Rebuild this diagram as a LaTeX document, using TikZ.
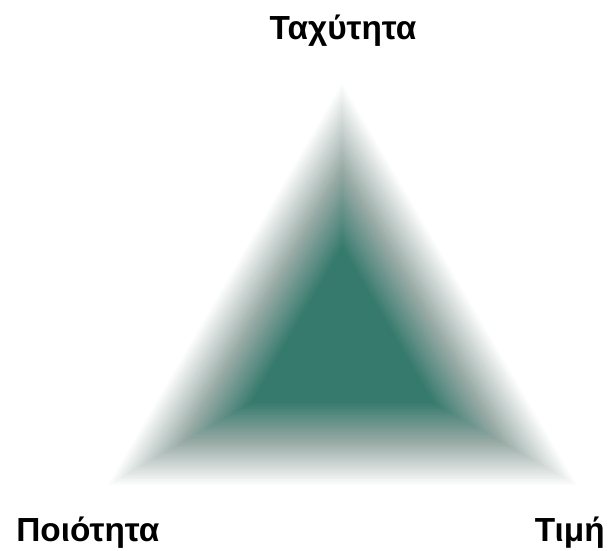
\documentclass[tikz,border=0pt]{standalone}
\usepackage{fontspec}
\setmainfont{Liberation Sans}
\usepackage{tikz}
\usetikzlibrary{calc,positioning}
\definecolor{deepteal}{HTML}{357A6D}
\definecolor{greyteal}{HTML}{98AAA5}

\begin{document}
\begin{tikzpicture}[
    x=0.02cm, y=0.02cm,
    corner/.style={font=\bfseries\fontsize{19}{22}\selectfont, inner sep=0pt}
]
\useasboundingbox (0,0) rectangle (614,550);

% outer corners and centre of the triangle
\coordinate (left) at (105,63);
\coordinate (right) at (580,63);
\coordinate (top) at (342,470);
\coordinate (mid) at (342.2,199.4);

% bevel: nested triangles from white to teal
\foreach \d in {0,2,...,44}{
    \pgfmathsetmacro{\s}{1-\d/136.4}
    \pgfmathsetmacro{\p}{\d/44*100}
    \fill[greyteal!\p!white] ($(mid)!\s!(left)$) -- ($(mid)!\s!(top)$) -- ($(mid)!\s!(right)$) -- cycle;
}
\foreach \d in {46,48,...,84}{
    \pgfmathsetmacro{\s}{1-\d/136.4}
    \pgfmathsetmacro{\p}{(\d-44)/40*100}
    \fill[deepteal!\p!greyteal] ($(mid)!\s!(left)$) -- ($(mid)!\s!(top)$) -- ($(mid)!\s!(right)$) -- cycle;
}

\node[corner, anchor=base] (speed) at (343,510) {Ταχύτητα};
\node[corner, anchor=base west] (quality) at (16,9) {Ποιότητα};
\node[corner, anchor=base east] (price) at (605,9) {Τιμή};
\end{tikzpicture}
\end{document}
